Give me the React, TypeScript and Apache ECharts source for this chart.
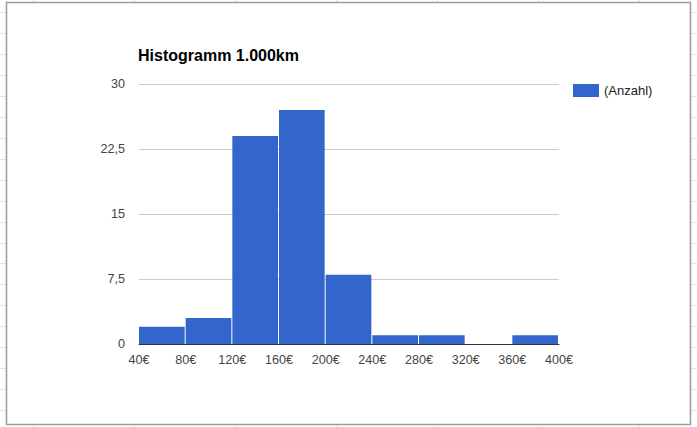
import React, { useEffect, useRef } from "react";
import * as echarts from "echarts";

// Histogram data: bin edges (€) and counts per bin
const binEdges = [40, 80, 120, 160, 200, 240, 280, 320, 360, 400];
const counts = [2, 3, 24, 27, 8, 1, 1, 0, 1];
const seriesName = "(Anzahl)";
const titleText = "Histogramm 1.000km";
const yTicks = [0, 7.5, 15, 22.5, 30];

const FONT = "'Liberation Sans', Arial, sans-serif";
const W = 697;
const H = 427;

export default function App() {
  const ref = useRef<HTMLDivElement>(null);

  useEffect(() => {
    if (!ref.current) return;
    const chart = echarts.init(ref.current, undefined, { renderer: "svg" });

    const data = counts.map((c, i) => [binEdges[i], binEdges[i + 1], c]);

    // spreadsheet grid decoration outside the chart frame
    const deco: any[] = [];
    for (let k = 0; k < 20; k++) {
      const y = Math.round(12.2 + 20.94 * k) + 0.5;
      deco.push({ type: "line", shape: { x1: 0, y1: y, x2: 6, y2: y }, style: { stroke: "#e3e3e3", lineWidth: 1 }, silent: true });
      deco.push({ type: "line", shape: { x1: 691, y1: y, x2: 697, y2: y }, style: { stroke: "#e3e3e3", lineWidth: 1 }, silent: true });
    }
    for (let k = 0; k < 7; k++) {
      const x = 33 + 101 * k + 0.5;
      deco.push({ type: "line", shape: { x1: x, y1: 0, x2: x, y2: 2 }, style: { stroke: "#e3e3e3", lineWidth: 1 }, silent: true });
      deco.push({ type: "line", shape: { x1: x, y1: 425, x2: x, y2: 427 }, style: { stroke: "#e3e3e3", lineWidth: 1 }, silent: true });
    }
    deco.push({
      type: "rect",
      shape: { x: 6.5, y: 2.5, width: 684, height: 422 },
      style: { fill: "none", stroke: "#9b9b9b", lineWidth: 1.5 },
      silent: true,
      z: 10,
    });

    chart.setOption({
      animation: false,
      backgroundColor: "#ffffff",
      color: ["#3366cc"],
      textStyle: { fontFamily: FONT },
      title: {
        text: titleText,
        left: 133,
        top: 42,
        textStyle: { fontFamily: FONT, fontSize: 16, fontWeight: "bold", color: "#000000" },
      },
      legend: {
        left: 573,
        top: 84,
        itemWidth: 26,
        itemHeight: 13,
        itemGap: 5,
        padding: 0,
        data: [{ name: seriesName, icon: "rect" }],
        textStyle: { fontFamily: FONT, fontSize: 13, color: "#222222" },
      },
      grid: { left: 139, right: W - 559, top: 84, bottom: H - 344, containLabel: false },
      xAxis: {
        type: "value",
        min: binEdges[0],
        max: binEdges[binEdges.length - 1],
        interval: 40,
        axisLine: { show: true, lineStyle: { color: "#333333", width: 1 } },
        axisTick: { show: false },
        splitLine: { show: false },
        axisLabel: {
          margin: 9,
          fontFamily: FONT,
          fontSize: 12.6,
          color: "#444444",
          formatter: (v: number) => `${v}€`,
        },
      },
      yAxis: {
        type: "value",
        min: yTicks[0],
        max: yTicks[yTicks.length - 1],
        interval: 7.5,
        axisLine: { show: false },
        axisTick: { show: false },
        splitLine: { show: true, lineStyle: { color: "#cccccc", width: 1 } },
        axisLabel: {
          margin: 14,
          fontFamily: FONT,
          fontSize: 12.6,
          color: "#444444",
          formatter: (v: number) => String(v).replace(".", ","),
        },
      },
      series: [
        {
          name: seriesName,
          type: "custom",
          data,
          encode: { x: [0, 1], y: 2 },
          renderItem: (params: any, api: any) => {
            const x0 = api.value(0);
            const x1 = api.value(1);
            const v = api.value(2);
            const p0 = api.coord([x0, 0]);
            const p1 = api.coord([x1, v]);
            return {
              type: "rect",
              shape: {
                x: p0[0],
                y: p1[1],
                width: p1[0] - p0[0] - 1,
                height: p0[1] - p1[1],
              },
              style: { fill: "#3366cc" },
            };
          },
        },
      ],
      graphic: deco,
    });

    return () => chart.dispose();
  }, []);

  return (
    <div style={{ position: "absolute", left: 0, top: 0, width: W, height: H, background: "#fff" }}>
      <div ref={ref} style={{ width: W, height: H }} />
    </div>
  );
}
